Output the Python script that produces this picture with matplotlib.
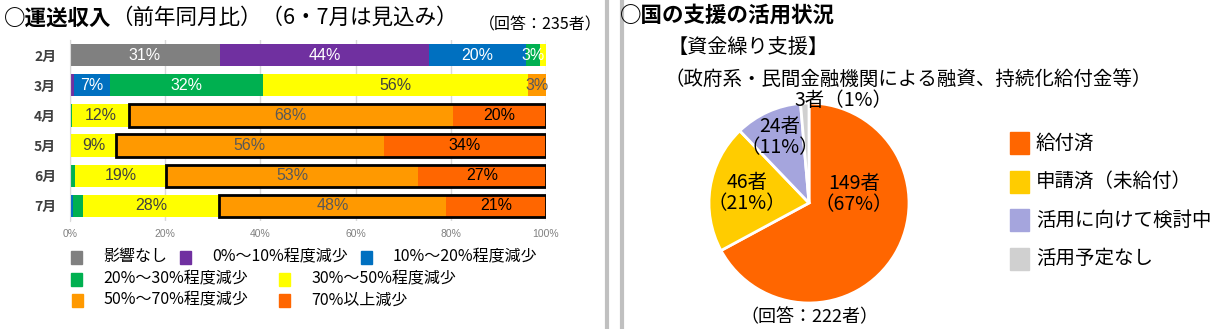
import numpy as np
import matplotlib
matplotlib.use("Agg")
import matplotlib.pyplot as plt
from matplotlib.patches import Rectangle

plt.rcParams['font.family'] = ['Noto Sans CJK JP', 'DejaVu Sans']

# ---- データ：運送収入（前年同月比） ----
months = ['2月', '3月', '4月', '5月', '6月', '7月']
categories = ['影響なし', '0%～10%程度減少', '10%～20%程度減少',
              '20%～30%程度減少', '30%～50%程度減少', '50%～70%程度減少', '70%以上減少']
shares = {
    '影響なし':        [31.5, 0.0, 0.0, 0.0, 0.0, 0.0],
    '0%～10%程度減少': [44.0, 0.9, 0.0, 0.0, 0.0, 0.0],
    '10%～20%程度減少': [20.2, 7.4, 0.0, 0.0, 0.0, 0.6],
    '20%～30%程度減少': [3.0, 32.2, 0.5, 0.3, 1.0, 2.1],
    '30%～50%程度減少': [1.3, 55.8, 11.9, 9.3, 19.2, 28.6],
    '50%～70%程度減少': [0.0, 3.7, 68.0, 56.3, 53.0, 47.7],
    '70%以上減少':     [0.0, 0.0, 19.6, 34.1, 26.8, 21.0],
}
bar_labels = {
    '影響なし':        ['31%', '', '', '', '', ''],
    '0%～10%程度減少': ['44%', '', '', '', '', ''],
    '10%～20%程度減少': ['20%', '7%', '', '', '', ''],
    '20%～30%程度減少': ['3%', '32%', '', '', '', ''],
    '30%～50%程度減少': ['', '56%', '12%', '9%', '19%', '28%'],
    '50%～70%程度減少': ['', '3%', '68%', '56%', '53%', '48%'],
    '70%以上減少':     ['', '', '20%', '34%', '27%', '21%'],
}
boxed_months = ['4月', '5月', '6月', '7月']

# ---- データ：国の支援の活用状況 ----
pie_names = ['給付済', '申請済（未給付）', '活用に向けて検討中', '活用予定なし']
pie_counts = [149, 46, 24, 3]
pie_texts = ['149者\n（67%）', '46者\n（21%）', '24者\n（11%）', '3者（1%）']

bar_colors = ['#808080', '#7030A0', '#0070C0', '#00B050', '#FFFF00', '#FF9900', '#FF6600']
text_colors = ['white', 'white', 'white', 'white', '#404040', '#595959', 'black']
pie_colors = ['#FF6600', '#FFCC00', '#A5A5DD', '#D0D0D0']

W, H = 1215, 329
fig = plt.figure(figsize=(W / 100, H / 100), dpi=100)

# 全体の重ね書き用（ピクセル座標）
ov = fig.add_axes([0, 0, 1, 1])
ov.set_xlim(0, W)
ov.set_ylim(H, 0)
ov.axis('off')

# ---- 帯グラフ ----
ax = fig.add_axes([70 / W, 1 - 221 / H, 476 / W, 181 / H])
y = np.arange(len(months))
left = np.zeros(len(months))
for cat, col, tcol in zip(categories, bar_colors, text_colors):
    vals = np.array(shares[cat])
    ax.barh(y, vals, left=left, height=0.74, color=col, edgecolor='none', zorder=2)
    for i, lab in enumerate(bar_labels[cat]):
        if lab:
            ax.text(left[i] + vals[i] / 2, y[i], lab, ha='center', va='center',
                    fontsize=11.5, color=tcol, zorder=4,
                    family=['Liberation Sans', 'Noto Sans CJK JP'])
    left = left + vals

# 50%以上減少の枠
o_start = 100 - np.array(shares['50%～70%程度減少']) - np.array(shares['70%以上減少'])
for m in boxed_months:
    i = months.index(m)
    ax.barh(y[i], 100 - o_start[i], left=o_start[i], height=0.74, fill=False,
            edgecolor='black', linewidth=2, zorder=3)

ax.set_xlim(0, 100)
ax.set_ylim(len(months) - 0.5, -0.5)
ax.set_yticks(y)
ax.set_yticklabels(months, fontsize=10, fontweight='bold', color='#404040')
ax.set_xticks(np.arange(0, 101, 20))
ax.set_xticklabels([f'{v}%' for v in range(0, 101, 20)], fontsize=7.5, color='#808080',
                   family=['Liberation Sans', 'DejaVu Sans'])
ax.tick_params(length=0, pad=6)
ax.tick_params(axis='y', pad=10)
ax.grid(axis='x', color='#D9D9D9', linewidth=1, zorder=0)
for s in ['top', 'right', 'bottom']:
    ax.spines[s].set_visible(False)
ax.spines['left'].set_color('#D9D9D9')

# 凡例（左）
leg_pos = [(71, 257), (180, 257), (361, 257), (71, 279), (279, 279), (72, 300), (279, 300)]
for (lx, ly), cat, col in zip(leg_pos, categories, bar_colors):
    ov.add_patch(Rectangle((lx, ly - 6.5), 11, 13, color=col))
    ov.text(lx + 32, ly, cat, fontsize=11.5, va='center', ha='left', color='black')

# タイトル（左）
t1 = ov.text(4, 18, '○運送収入', fontsize=15.5, fontweight='bold', va='center', ha='left')
ov.annotate('（前年同月比）（6・7月は見込み）', xy=(1, 0.5), xycoords=t1,
            fontsize=15.5, va='center', ha='left')
ov.text(602, 25, '（回答：235者）', fontsize=11.5, va='center', ha='right')

# 区切り線
ov.plot([607, 607], [0, H], color='#C0C0C0', linewidth=3)
ov.plot([622, 622], [0, H], color='#C0C0C0', linewidth=3)

# ---- 円グラフ ----
cx, cy, r = 809, 203, 100
pax = fig.add_axes([(cx - r) / W, 1 - (cy + r) / H, 2 * r / W, 2 * r / H])
wedges, _ = pax.pie(pie_counts, colors=pie_colors, startangle=90, counterclock=False,
                    wedgeprops=dict(edgecolor='white', linewidth=2))
pax.set_xlim(-1, 1)
pax.set_ylim(-1, 1)
pax.set_aspect('equal')
label_xy = [(0.45, 0.09), (-0.62, 0.1), (-0.29, 0.66), (0.34, 1.03)]
for (tx, ty), txt in zip(label_xy, pie_texts):
    pax.text(tx, ty, txt, ha='center', va='center', fontsize=14, linespacing=1.0,
             color='black', clip_on=False)

ov.text(620, 15, '○国の支援の活用状況', fontsize=15.5, fontweight='bold', va='center', ha='left')
ov.text(668, 47, '【資金繰り支援】', fontsize=14.5, va='center', ha='left')
ov.text(664, 79, '（政府系・民間金融機関による融資、持続化給付金等）', fontsize=14,
        va='center', ha='left')
ov.text(cx, 317, '（回答：222者）', fontsize=13, va='center', ha='center')

# 凡例（右）
for k, (name, col) in enumerate(zip(pie_names, pie_colors)):
    ly = 143 + k * 38.5
    ov.add_patch(Rectangle((1010, ly - 11), 19, 22, color=col))
    ov.text(1036, ly, name, fontsize=14, va='center', ha='left')

fig.savefig('out.png', dpi=100)
